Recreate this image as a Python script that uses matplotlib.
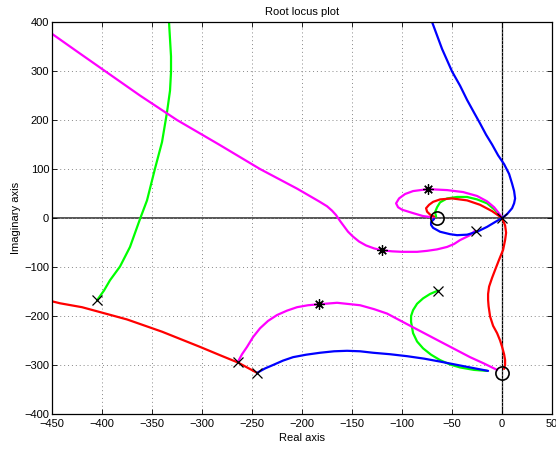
import matplotlib
matplotlib.use("Agg")
import matplotlib.pyplot as plt

plt.rcParams['font.family'] = ['Liberation Sans', 'DejaVu Sans']

# ---- branch data (real, imag) ----
green_a_x = [-405, -398, -392, -382, -372, -362, -355, -347, -340, -335, -332, -331, -331, -332, -333]
green_a_y = [-168, -148, -127, -99, -59, -2, 36, 101, 155, 216, 260, 298, 330, 365, 400]

green_b_x = [-66, -67, -65, -62, -55, -45, -35, -25, -15, -7, 0]
green_b_y = [3, 12, 22, 32, 40, 43, 43, 38, 30, 16, 0]

green_c_x = [-64, -72, -79, -85, -89, -91, -91, -89, -85, -79, -71, -62, -52, -42, -28, -15]
green_c_y = [-148, -155, -164, -175, -188, -200, -212, -235, -252, -266, -279, -290, -299, -305, -310, -312]

magenta_a_x = [-27, -33, -42, -48, -55, -65, -75, -85, -100, -110, -120, -128, -136, -143, -149, -154, -158, -162, -166, -170, -175, -183, -205, -242, -283, -325, -362, -397, -425, -450]
magenta_a_y = [-26, -36, -45, -53, -59, -64, -67, -69, -69, -68, -66, -62, -56, -48, -38, -28, -17, -6, 6, 15, 24, 34, 60, 100, 150, 200, 250, 300, 340, 376]

magenta_b_x = [0, -4, -8, -15, -25, -39, -55, -74, -89, -97, -103, -106, -104, -100, -89, -79, -68]
magenta_b_y = [0, 12, 22, 34, 45, 53, 57, 59, 55, 49, 40, 30, 22, 17, 10, 4, 1]

magenta_c_x = [-264, -260, -255, -249, -242, -234, -225, -215, -205, -194, -183, -165, -142, -128, -115, -103, -90, -76, -62, -47, -32, -18, -5]
magenta_c_y = [-293, -278, -263, -243, -225, -210, -198, -189, -182, -178, -176, -173, -178, -186, -195, -208, -222, -237, -252, -268, -284, -297, -310]

red_a_x = [-450, -442, -420, -402, -375, -340, -302, -282, -264, -245]
red_a_y = [-170, -174, -182, -192, -207, -232, -263, -280, -295, -316]

red_b_x = [0, -10, -22, -35, -50, -62, -69, -73, -76, -75, -72, -68]
red_b_y = [0, 14, 27, 36, 40, 38, 33, 27, 20, 13, 7, 3]

red_c_x = [0, 3, 4, 3, 1, -3, -7, -10, -13, -14, -14, -13.5, -12, -9, -5, -2, 0, 2, 3, 3, 2]
red_c_y = [0, -15, -30, -45, -65, -85, -106, -122, -140, -155, -167, -180, -201, -220, -235, -250, -263, -278, -290, -300, -308]

blue_a_x = [-68, -71, -71, -69, -62, -52, -45, -35, -25, -15, -6, 0, 5, 10, 12, 13, 12, 10, 7, 2, -4, -10, -16, -22, -28, -35, -42, -50, -60, -70]
blue_a_y = [-2, -8, -14, -20, -28, -33, -35, -34, -28, -18, -7, 0, 8, 20, 30, 40, 55, 70, 90, 110, 128, 150, 170, 193, 215, 241, 270, 299, 345, 400]

blue_b_x = [-245, -237, -229, -219, -209, -196, -182, -168, -155, -142, -129, -112, -95, -78, -62, -47, -32, -14]
blue_b_y = [-316, -307, -300, -291, -284, -279, -275, -272, -271, -272, -275, -278, -282, -287, -293, -299, -305, -312]

pole_x = [-405, -264, -245, -64, -26, 0]
pole_y = [-168, -293, -316, -148, -26, 0]

star_x = [-74, -120, -183]
star_y = [59, -66, -176]

zero_x = [-65, 0]
zero_y = [0, -316]

x_ticks = list(range(-450, 51, 50))
y_ticks = list(range(-400, 401, 100))

fig = plt.figure(figsize=(5.56, 4.5), dpi=100)
ax = fig.add_axes([0.0935, 0.08, 0.8995, 0.871])

ax.axhline(0, color='#555555', lw=1.4, zorder=1)
ax.axvline(0, color='black', lw=0.9, zorder=1)

lw = 1.6
kw = dict(lw=lw, zorder=2, solid_joinstyle='round', solid_capstyle='round')
ax.plot(green_a_x, green_a_y, color=(0, 1, 0), **kw)
ax.plot(green_b_x, green_b_y, color=(0, 1, 0), **kw)
ax.plot(green_c_x, green_c_y, color=(0, 1, 0), **kw)
ax.plot(magenta_a_x, magenta_a_y, color=(1, 0, 1), **kw)
ax.plot(magenta_b_x, magenta_b_y, color=(1, 0, 1), **kw)
ax.plot(magenta_c_x, magenta_c_y, color=(1, 0, 1), **kw)
ax.plot(red_a_x, red_a_y, color=(1, 0, 0), **kw)
ax.plot(red_b_x, red_b_y, color=(1, 0, 0), **kw)
ax.plot(red_c_x, red_c_y, color=(1, 0, 0), **kw)
ax.plot(blue_a_x, blue_a_y, color=(0, 0, 1), **kw)
ax.plot(blue_b_x, blue_b_y, color=(0, 0, 1), **kw)

ax.plot(pole_x, pole_y, linestyle='none', marker='x', ms=6.5, mew=0.9, color='black', zorder=3)
ax.plot(star_x, star_y, linestyle='none', marker=(8, 2, 0), ms=7.5, mew=0.9, color='black', zorder=3)
ax.plot(zero_x, zero_y, linestyle='none', marker='o', ms=9.5, mew=1.2, mfc='none', mec='black', zorder=3)

ax.set_xlim(-450, 50)
ax.set_ylim(-400, 400)
ax.set_xticks(x_ticks)
ax.set_yticks(y_ticks)
ax.tick_params(direction='in', length=3.5, width=0.6, labelsize=8, top=True, right=True)
ax.tick_params(axis='x', pad=3.5)
ax.tick_params(axis='y', pad=2)
ax.grid(True, color='#888888', linestyle=(0, (1, 3)), lw=0.7)
for s in ax.spines.values():
    s.set_linewidth(0.9)

ax.set_title('Root locus plot', fontsize=8, pad=5)
ax.set_xlabel('Real axis', fontsize=8, labelpad=3)
ax.set_ylabel('Imaginary axis', fontsize=8, labelpad=2)

fig.savefig('out.png', dpi=100)
